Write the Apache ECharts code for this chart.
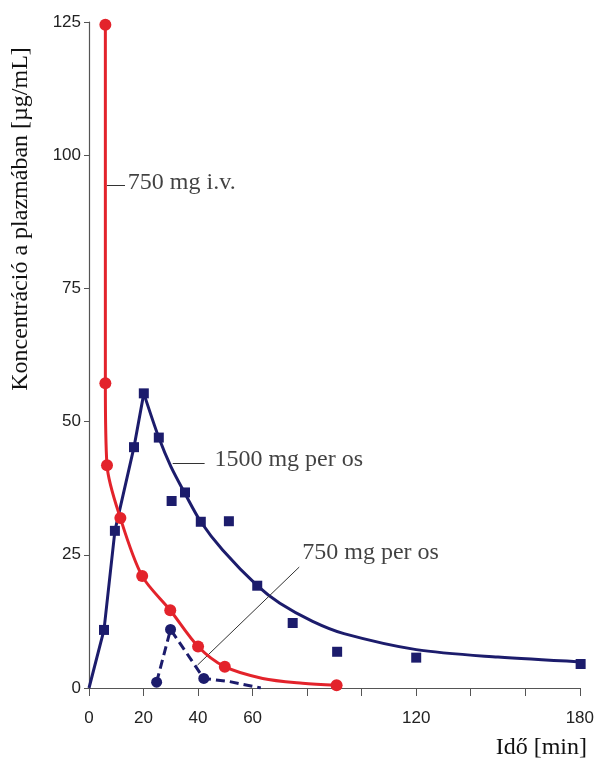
<!DOCTYPE html>
<html>
<head>
<meta charset="utf-8">
<script src="https://cdn.jsdelivr.net/npm/echarts@6/dist/echarts.min.js"></script>
<style>html,body{margin:0;padding:0;background:#fff}#c{width:597px;height:758px}</style>
</head>
<body>
<div id="c"></div>
<script>
// x ticks shown
var xTickLabels = [0, 20, 40, 60, 120, 180];
// 750 mg i.v. measured points [min, µg/mL]
var ivPoints = [[6, 124.5], [6, 57.2], [6.6, 41.8], [11.5, 31.9], [19.5, 21], [29.8, 14.6], [40, 7.8], [49.8, 4], [90.8, 0.5]];
// 750 mg i.v. drawn curve
var ivCurve = [[6, 124.5], [6, 57.2], [6.6, 41.8], [11.5, 31.9], [19.5, 21], [29.8, 14.6], [40, 7.8], [49.8, 4], [63.7, 1.8], [78.3, 0.9], [90.8, 0.5]];
// 1500 mg per os measured points
var po1500Points = [[5.5, 10.9], [9.5, 29.5], [16.5, 45.2], [20.1, 55.3], [25.6, 47], [30.3, 35.1], [35.2, 36.7], [41, 31.2], [51.3, 31.3], [61.7, 19.2], [74.7, 12.2], [91, 6.8], [120, 5.7], [180.3, 4.5]];
// 1500 mg per os drawn curve: absorption (straight) and elimination (smooth)
var po1500Rise = [[0, 0], [5.5, 10.9], [9.5, 29.5], [16.5, 45.2], [20.1, 55.3]];
var po1500Decay = [[20.1, 55.3], [25.6, 47], [30, 41.6], [35.2, 36.5], [41, 31.2], [49, 25.9], [61.7, 19.2], [70, 15.9], [82, 12.5], [93.5, 10.2], [120, 7.2], [150, 5.8], [180.3, 4.9]];
// 750 mg per os measured points
var po750Points = [[24.8, 1.1], [29.9, 11], [42.1, 1.8]];
// 750 mg per os curve tail
var po750Tail = [[51.6, 1.2], [63, 0]];
// annotation labels
var labelTexts = ['750 mg i.v.', '1500 mg per os', '750 mg per os'];
var labelAnchors = [[14.25, 94.8], [46.0, 42.8], [78.2, 25.3]];
var leaderLines = [[[6.6, 94.4], [13.2, 94.4]], [[30.7, 42.2], [42.4, 42.2]], [[39.8, 4.3], [77.1, 22.7]]];

var RED = '#e3232b', BLUE = '#1c1c6c';
var serif = '"Liberation Serif", "Times New Roman", serif';
var sans = '"Liberation Sans", Arial, sans-serif';

var chart = echarts.init(document.getElementById('c'));
var po750Data = po750Points.map(function (p) { return {value: p}; })
  .concat(po750Tail.map(function (p) { return {value: p, symbol: 'none'}; }));

chart.setOption({
  animation: false,
  backgroundColor: '#fff',
  grid: {left: 89, right: 15, top: 22, bottom: 70},
  xAxis: {
    type: 'value', min: 0, max: 180, interval: 20,
    axisLine: {show: true, lineStyle: {color: '#555', width: 1.2}},
    axisTick: {show: true, length: 8, lineStyle: {color: '#555'}},
    splitLine: {show: false},
    axisLabel: {
      margin: 22, fontFamily: sans, fontSize: 17, color: '#222',
      formatter: function (v) { return xTickLabels.indexOf(v) >= 0 ? String(v) : ''; }
    }
  },
  yAxis: {
    type: 'value', min: 0, max: 125, interval: 25,
    axisLine: {show: true, lineStyle: {color: '#555', width: 1.2}},
    axisTick: {show: true, length: 5, lineStyle: {color: '#555'}},
    splitLine: {show: false},
    axisLabel: {margin: 8, fontFamily: sans, fontSize: 17, color: '#222'}
  },
  graphic: [
    {type: 'text', x: 21, y: 219, rotation: Math.PI / 2,
     style: {text: 'Koncentráció a plazmában [µg/mL]', font: '24px ' + serif, fill: '#111', textAlign: 'center', textVerticalAlign: 'middle'}},
    {type: 'text', x: 587, y: 748,
     style: {text: 'Idő [min]', font: '24px ' + serif, fill: '#111', textAlign: 'right', textVerticalAlign: 'middle'}}
  ],
  series: [
    {type: 'line', data: po1500Rise, smooth: false, symbol: 'none', clip: false,
     lineStyle: {color: BLUE, width: 3}, z: 2},
    {type: 'line', data: po1500Decay, smooth: 0.3, symbol: 'none', clip: false,
     lineStyle: {color: BLUE, width: 3}, z: 2},
    {type: 'scatter', data: po1500Points, symbol: 'rect', symbolSize: 10, clip: false,
     itemStyle: {color: BLUE, opacity: 1}, z: 4},
    {type: 'line', data: po750Data, smooth: false, symbol: 'circle', symbolSize: 11,
     itemStyle: {color: BLUE, opacity: 1}, lineStyle: {color: BLUE, width: 3, type: [9, 5]}, z: 3},
    {type: 'line', data: ivCurve, smooth: 0.3, symbol: 'none', clip: false,
     lineStyle: {color: RED, width: 3}, z: 5,
     markLine: {silent: true, symbol: 'none', animation: false,
       lineStyle: {color: '#333', width: 1, type: 'solid'}, label: {show: false},
       data: leaderLines.map(function (l) { return [{coord: l[0]}, {coord: l[1]}]; })}},
    {type: 'scatter', data: ivPoints, symbol: 'circle', symbolSize: 12, clip: false,
     itemStyle: {color: RED, opacity: 1}, z: 6},
    {type: 'scatter', symbolSize: 0, silent: true, z: 7,
     data: labelAnchors.map(function (a, i) { return {value: a, name: labelTexts[i]}; }),
     label: {show: true, position: 'right', distance: 0, formatter: '{b}',
       fontFamily: serif, fontSize: 24, color: '#111'}}
  ]
});
</script>
</body>
</html>
